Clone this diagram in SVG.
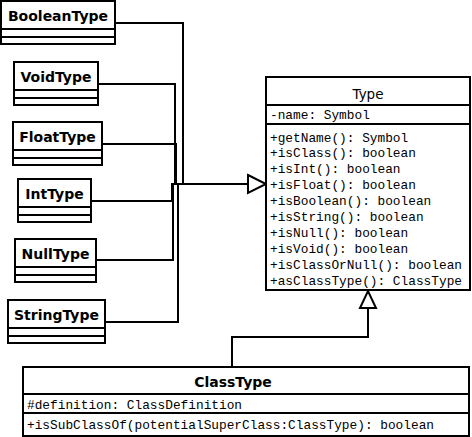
<svg xmlns="http://www.w3.org/2000/svg" width="472" height="437" viewBox="0 0 472 437">
<style>
.box{fill:#fff;stroke:#000;stroke-width:2}
.div{stroke:#000;stroke-width:2}
.t{font-family:"DejaVu Sans",sans-serif;font-weight:bold;font-size:14px;text-anchor:middle;fill:#000}
.tr{font-family:"DejaVu Sans",sans-serif;font-size:13.5px;text-anchor:middle;fill:#000}
.m{font-family:"Liberation Mono",monospace;font-size:12.8px;fill:#000}
.c{fill:none;stroke:#000;stroke-width:2}
.h{fill:#fff;stroke:#000;stroke-width:2}
</style>
<rect width="472" height="437" fill="#fff"/>
<g id="connectors">
<polyline class="c" points="115,23 183,23 183,184"/>
<polyline class="c" points="98,84 175,84 175,184"/>
<polyline class="c" points="102,144 176,144 176,184"/>
<polyline class="c" points="91,201 172,201 172,184"/>
<polyline class="c" points="96,260 173,260 173,184"/>
<polyline class="c" points="105,322 178,322 178,184"/>
<line class="c" x1="171" y1="184" x2="248" y2="184"/>
<polygon class="h" points="248,175 266,184 248,193"/>
<polyline class="c" points="232,367 232,337 368,337 368,308"/>
<polygon class="h" points="360,308 376,308 368,291"/>
</g>
<g id="BooleanType">
<rect class="box" x="1" y="1" width="114" height="43"/>
<line class="div" x1="1" y1="29" x2="115" y2="29"/><line class="div" x1="1" y1="37" x2="115" y2="37"/>
<text class="t" x="58" y="21">BooleanType</text>
</g>
<g id="VoidType">
<rect class="box" x="14" y="62" width="84" height="43"/>
<line class="div" x1="14" y1="90" x2="98" y2="90"/><line class="div" x1="14" y1="98" x2="98" y2="98"/>
<text class="t" x="56" y="82">VoidType</text>
</g>
<g id="FloatType">
<rect class="box" x="13" y="122" width="89" height="43"/>
<line class="div" x1="13" y1="150" x2="102" y2="150"/><line class="div" x1="13" y1="158" x2="102" y2="158"/>
<text class="t" x="57.5" y="142">FloatType</text>
</g>
<g id="IntType">
<rect class="box" x="18" y="179" width="73" height="43"/>
<line class="div" x1="18" y1="207" x2="91" y2="207"/><line class="div" x1="18" y1="215" x2="91" y2="215"/>
<text class="t" x="54.5" y="199">IntType</text>
</g>
<g id="NullType">
<rect class="box" x="15" y="239" width="81" height="43"/>
<line class="div" x1="15" y1="267" x2="96" y2="267"/><line class="div" x1="15" y1="275" x2="96" y2="275"/>
<text class="t" x="55.5" y="259">NullType</text>
</g>
<g id="StringType">
<rect class="box" x="8" y="300" width="97" height="43"/>
<line class="div" x1="8" y1="328" x2="105" y2="328"/><line class="div" x1="8" y1="336" x2="105" y2="336"/>
<text class="t" x="56.5" y="320">StringType</text>
</g>
<g id="Type">
<rect class="box" x="266" y="77" width="204" height="213"/>
<line class="div" x1="266" y1="105" x2="470" y2="105"/><line class="div" x1="266" y1="124" x2="470" y2="124"/>
<text class="tr" x="368" y="99">Type</text>
<text class="m" x="270" y="119">-name: Symbol</text>
<text class="m" x="270" y="141.5">+getName(): Symbol</text>
<text class="m" x="270" y="157.4">+isClass(): boolean</text>
<text class="m" x="270" y="173.3">+isInt(): boolean</text>
<text class="m" x="270" y="189.2">+isFloat(): boolean</text>
<text class="m" x="270" y="205.1">+isBoolean(): boolean</text>
<text class="m" x="270" y="221">+isString(): boolean</text>
<text class="m" x="270" y="236.9">+isNull(): boolean</text>
<text class="m" x="270" y="252.8">+isVoid(): boolean</text>
<text class="m" x="270" y="268.7">+isClassOrNull(): boolean</text>
<text class="m" x="270" y="284.6">+asClassType(): ClassType</text>
</g>
<g id="ClassType">
<rect class="box" x="23" y="367" width="446" height="69"/>
<line class="div" x1="23" y1="394" x2="469" y2="394"/><line class="div" x1="23" y1="413" x2="469" y2="413"/>
<text class="t" x="233" y="387">ClassType</text>
<text class="m" x="27" y="409">#definition: ClassDefinition</text>
<text class="m" x="27" y="429">+isSubClassOf(potentialSuperClass:ClassType): boolean</text>
</g>
</svg>
